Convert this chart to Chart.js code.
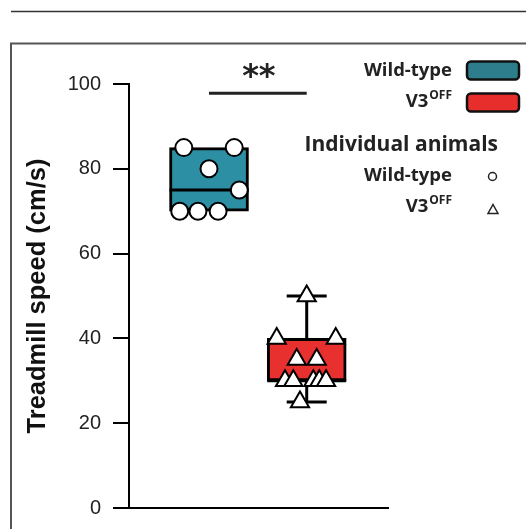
<!DOCTYPE html>
<html><head><meta charset="utf-8">
<script src="https://cdn.jsdelivr.net/npm/chart.js@4.4.1/dist/chart.umd.min.js"></script>
<style>html,body{margin:0;padding:0;background:#fff;}canvas{display:block;}</style>
</head><body>
<canvas id="c" width="526" height="529"></canvas>
<script>
// ---- data ----
const categories = ['Wild-type', 'V3OFF'];
const categoryX = [1, 2];
const wtSpeeds = [85, 85, 80, 75, 70, 70, 70];
const wtJitter = [0.742, 1.258, 1.0, 1.31, 0.70, 0.887, 1.093];
const v3Speeds = [50, 40, 40, 35, 35, 30, 30, 30, 30, 30, 25];
const v3Jitter = [2.0, 1.693, 2.297, 1.898, 2.102, 1.778, 1.863, 2.068, 2.129, 2.198, 1.931];
const wtBox = {min: 70, q1: 70, median: 75, q3: 85, max: 85};
const v3Box = {min: 25, q1: 30, median: 30, q3: 40, max: 50};
const yTickValues = [0, 20, 40, 60, 80, 100];
const significanceLabel = '**';
const significanceY = 97.8;

// ---- styles ----
const teal = 'rgb(44,143,163)', red = 'rgb(232,48,46)';
const tealLegend = 'rgb(46,125,141)', redLegend = 'rgb(232,45,45)';
const boxes = [wtBox, v3Box];

const overlay = {
  id: 'overlay',
  beforeDraw(chart) {
    const ctx = chart.ctx;
    ctx.save();
    ctx.strokeStyle = '#333'; ctx.lineWidth = 1.5;
    ctx.beginPath(); ctx.moveTo(11, 11.5); ctx.lineTo(526, 11.5); ctx.stroke();
    ctx.strokeStyle = '#555'; ctx.lineWidth = 2;
    ctx.beginPath(); ctx.moveTo(11, 530); ctx.lineTo(11, 43.5); ctx.lineTo(526, 43.5); ctx.stroke();
    ctx.restore();
  },
  afterDatasetDraw(chart, args) {
    if (args.index !== 0) return;
    const ctx = chart.ctx, xs = chart.scales.x, ys = chart.scales.y;
    ctx.save();
    ctx.strokeStyle = '#000'; ctx.lineWidth = 3; ctx.lineCap = 'butt';
    boxes.forEach((b, i) => {
      const cx = xs.getPixelForValue(categoryX[i]);
      const half = 39.5, cap = 20;
      const my = ys.getPixelForValue(b.median);
      ctx.beginPath(); ctx.moveTo(cx - half, my); ctx.lineTo(cx + half, my); ctx.stroke();
      if (b.max > b.q3) {
        const y1 = ys.getPixelForValue(b.q3), y2 = ys.getPixelForValue(b.max);
        ctx.beginPath(); ctx.moveTo(cx, y1); ctx.lineTo(cx, y2); ctx.moveTo(cx - cap, y2); ctx.lineTo(cx + cap, y2); ctx.stroke();
      }
      if (b.min < b.q1) {
        const y1 = ys.getPixelForValue(b.q1), y2 = ys.getPixelForValue(b.min);
        ctx.beginPath(); ctx.moveTo(cx, y1); ctx.lineTo(cx, y2); ctx.moveTo(cx - cap, y2); ctx.lineTo(cx + cap, y2); ctx.stroke();
      }
    });
    ctx.restore();
  },
  afterDraw(chart) {
    const ctx = chart.ctx, xs = chart.scales.x, ys = chart.scales.y;
    ctx.save();
    // significance
    const sy = ys.getPixelForValue(significanceY);
    const x1 = xs.getPixelForValue(categoryX[0]), x2 = xs.getPixelForValue(categoryX[1]);
    ctx.strokeStyle = '#222'; ctx.lineWidth = 3;
    ctx.beginPath(); ctx.moveTo(x1, sy); ctx.lineTo(x2, sy); ctx.stroke();
    ctx.fillStyle = '#222'; ctx.font = 'bold 32px "DejaVu Sans"';
    ctx.textAlign = 'center'; ctx.textBaseline = 'alphabetic';
    const m = ctx.measureText(significanceLabel);
    const midOff = (m.actualBoundingBoxAscent - m.actualBoundingBoxDescent) / 2;
    ctx.fillText(significanceLabel, (x1 + x2) / 2 + 1, sy - 23 + midOff);
    // legend
    const rx = 452;
    const big = '700 18.5px "Open Sans"', sup = '700 12px "Open Sans"';
    function label(txt, supTxt, baseY) {
      ctx.textAlign = 'left';
      ctx.font = big; const w1 = ctx.measureText(txt).width;
      let w2 = 0;
      if (supTxt) { ctx.font = sup; w2 = ctx.measureText(supTxt).width + 1; }
      ctx.font = big; ctx.fillText(txt, rx - w1 - w2, baseY);
      if (supTxt) { ctx.font = sup; ctx.fillText(supTxt, rx - w2 + 1, baseY - 8); }
    }
    ctx.fillStyle = '#222';
    label(categories[0], '', 76);
    label('V3', 'OFF', 107);
    function swatch(y, color) {
      ctx.beginPath(); ctx.roundRect(467, y, 52, 18, 4);
      ctx.fillStyle = color; ctx.fill();
      ctx.lineWidth = 2.5; ctx.strokeStyle = '#111'; ctx.stroke();
    }
    swatch(61.5, tealLegend);
    swatch(93.5, redLegend);
    ctx.fillStyle = '#222';
    ctx.font = '700 21px "Open Sans"'; ctx.textAlign = 'right';
    ctx.fillText('Individual animals', 498, 151);
    label(categories[0], '', 181);
    label('V3', 'OFF', 212);
    ctx.lineWidth = 1.5; ctx.strokeStyle = '#222';
    ctx.beginPath(); ctx.arc(492.5, 176.5, 4, 0, Math.PI * 2); ctx.stroke();
    ctx.beginPath(); ctx.moveTo(493, 204.5); ctx.lineTo(498, 213.5); ctx.lineTo(488, 213.5); ctx.closePath(); ctx.stroke();
    ctx.restore();
  }
};

new Chart(document.getElementById('c'), {
  type: 'bar',
  data: {
    datasets: [
      {
        type: 'bar', order: 3,
        data: boxes.map((b, i) => ({x: categoryX[i], y: [b.q1, b.q3]})),
        backgroundColor: [teal, red], borderColor: '#000', borderWidth: 3,
        borderSkipped: false, barThickness: 79, grouped: false
      },
      {
        type: 'scatter', order: 1,
        data: wtSpeeds.map((v, i) => ({x: wtJitter[i], y: v})),
        pointStyle: 'circle', pointRadius: 8.5, pointBackgroundColor: '#fff',
        pointBorderColor: '#000', pointBorderWidth: 2
      },
      {
        type: 'scatter', order: 0,
        data: v3Speeds.map((v, i) => ({x: v3Jitter[i], y: v})),
        pointStyle: 'triangle', pointRadius: 10.5, pointBackgroundColor: '#fff',
        pointBorderColor: '#000', pointBorderWidth: 2
      }
    ]
  },
  options: {
    responsive: false, animation: false,
    layout: {padding: {top: 84, right: 138, bottom: 0, left: 0}},
    plugins: {legend: {display: false}, tooltip: {enabled: false}},
    scales: {
      x: {
        type: 'linear', min: 0.181, max: 2.832, offset: false,
        ticks: {display: false}, grid: {display: false, offset: false},
        border: {display: true, color: '#000', width: 2},
        afterFit: s => { s.height = 21; s.paddingLeft = 0; s.paddingRight = 0; }
      },
      y: {
        min: 0, max: 100,
        afterBuildTicks: s => { s.ticks = yTickValues.map(v => ({value: v})); },
        ticks: {color: '#222', font: {family: 'Liberation Sans', size: 20}, padding: 12},
        grid: {drawOnChartArea: false, tickLength: 16, color: '#000', lineWidth: 2},
        border: {display: true, color: '#000', width: 2},
        title: {display: true, text: 'Treadmill speed (cm/s)', color: '#111',
                font: {family: 'Liberation Sans', size: 25.5, weight: 'bold'}, padding: {top: 23, bottom: 0}},
        afterFit: s => { s.width = 129; s.paddingTop = 0; s.paddingBottom = 0; }
      }
    }
  },
  plugins: [overlay]
});
</script>
</body></html>
